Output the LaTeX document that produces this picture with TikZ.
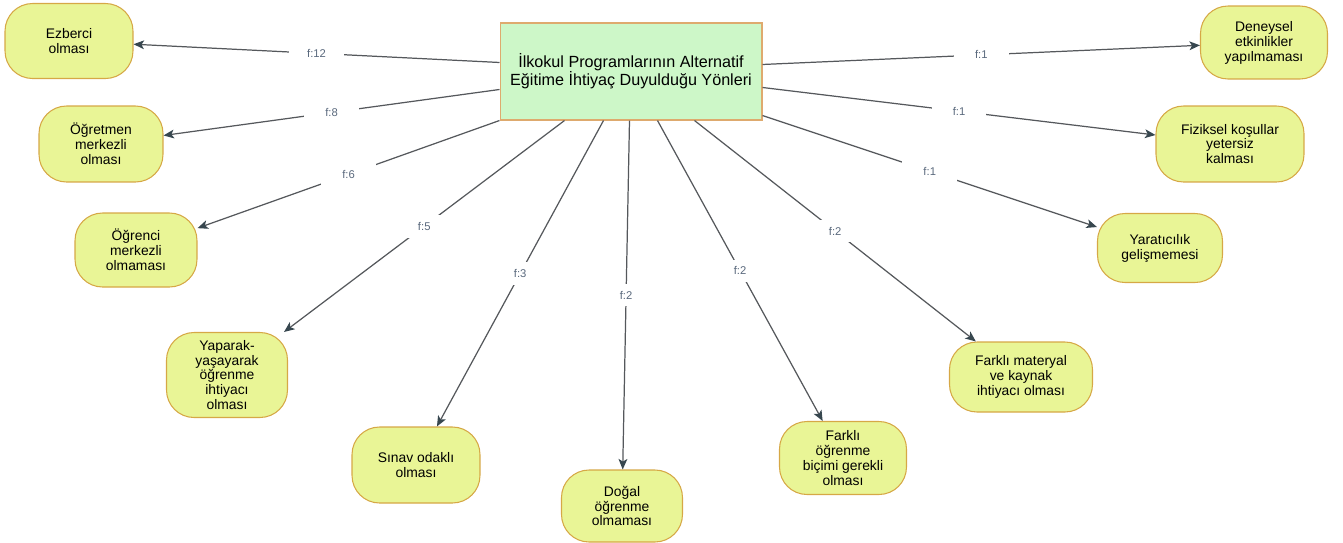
\documentclass[tikz,border=0pt]{standalone}
\usepackage{fontspec}
\setmainfont{Liberation Sans}
\usetikzlibrary{arrows.meta,calc}

\definecolor{mainfill}{RGB}{205,247,200}
\definecolor{maindraw}{RGB}{222,170,110}
\definecolor{ideafill}{RGB}{233,245,150}
\definecolor{ideadraw}{RGB}{214,168,70}
\definecolor{linkgray}{RGB}{85,88,92}
\definecolor{tipgray}{RGB}{55,71,79}
\definecolor{freqblue}{RGB}{90,105,125}

\begin{document}
\begin{tikzpicture}[x=0.02cm,y=-0.02cm,
  topic/.style={draw=maindraw, fill=mainfill, line width=0.6pt,
    minimum width=5.24cm, minimum height=1.94cm, align=center,
    font=\fontsize{9.2}{10.4}\selectfont, inner sep=0pt},
  idea/.style={draw=ideadraw, fill=ideafill, line width=0.6pt,
    rounded corners=0.55cm, align=center,
    font=\fontsize{7.9}{8.5}\selectfont, inner sep=0pt},
  link/.style={draw=linkgray, line width=0.7pt,
    -{Stealth[length=6pt,width=5pt,inset=1.5pt,color=tipgray]}},
  freq/.style={fill=white, text=freqblue, font=\fontsize{6.4}{7}\selectfont,
    minimum width=1.1cm, minimum height=0.45cm, inner sep=0pt}
]
\useasboundingbox (0,0) rectangle (1343,542);

% central topic
\node[topic] (c) at (631,71.5) {İlkokul Programlarının Alternatif\\Eğitime İhtiyaç Duyulduğu Yönleri};

% surrounding items
\node[idea, minimum width=2.56cm, minimum height=1.50cm] (ezb) at (69,41) {Ezberci\\olması};
\node[idea, minimum width=2.48cm, minimum height=1.52cm] (ogr) at (101,144) {Öğretmen\\merkezli\\olması};
\node[idea, minimum width=2.44cm, minimum height=1.48cm] (ogc) at (136,250) {Öğrenci\\merkezli\\olmaması};
\node[idea, minimum width=2.42cm, minimum height=1.70cm] (yap) at (227,375) {Yaparak-\\yaşayarak\\öğrenme\\ihtiyacı\\olması};
\node[idea, minimum width=2.56cm, minimum height=1.52cm] (sin) at (416,465) {Sınav odaklı\\olması};
\node[idea, minimum width=2.42cm, minimum height=1.44cm] (dog) at (622,506) {Doğal\\öğrenme\\olmaması};
\node[idea, minimum width=2.54cm, minimum height=1.46cm] (fob) at (843,458) {Farklı\\öğrenme\\biçimi gerekli\\olması};
\node[idea, minimum width=2.86cm, minimum height=1.40cm] (fmk) at (1021,377) {Farklı materyal\\ve kaynak\\ihtiyacı olması};
\node[idea, minimum width=2.50cm, minimum height=1.38cm] (yar) at (1160,248) {Yaratıcılık\\gelişmemesi};
\node[idea, minimum width=2.96cm, minimum height=1.52cm] (fiz) at (1230,144) {Fiziksel koşullar\\yetersiz\\kalması};
\node[idea, minimum width=2.54cm, minimum height=1.46cm] (den) at (1264,42.5) {Deneysel\\etkinlikler\\yapılmaması};

% exit points on the central box
\coordinate (sL1) at ($(c.north west)+(0,40)$);
\coordinate (sL2) at ($(c.north west)+(0,67)$);
\coordinate (sL3) at (c.south west);
\coordinate (sB1) at ($(c.south west)+(65,0)$);
\coordinate (sB2) at ($(c.south west)+(104,0)$);
\coordinate (sB3) at ($(c.south west)+(130,0)$);
\coordinate (sB4) at ($(c.south west)+(158,0)$);
\coordinate (sB5) at ($(c.south west)+(195,0)$);
\coordinate (sR1) at ($(c.north east)+(0,42)$);
\coordinate (sR2) at ($(c.north east)+(0,65)$);
\coordinate (sR3) at ($(c.south east)+(0,-5)$);

% connectors with frequencies
\draw[link] (sL1) -- node[freq]{f:12} (ezb);
\draw[link] (sL2) -- node[freq]{f:8} (ogr);
\draw[link] (sL3) -- node[freq]{f:6} (ogc);
\draw[link] (sB1) -- node[freq]{f:5} (yap);
\draw[link] (sB2) -- node[freq]{f:3} (sin);
\draw[link] (sB3) -- node[freq]{f:2} (dog);
\draw[link] (sB4) -- node[freq]{f:2} (fob);
\draw[link] (sB5) -- node[freq]{f:2} (fmk);
\draw[link] (sR3) -- node[freq]{f:1} (yar);
\draw[link] (sR2) -- node[freq]{f:1} (fiz);
\draw[link] (sR1) -- node[freq]{f:1} (den);
\end{tikzpicture}
\end{document}
